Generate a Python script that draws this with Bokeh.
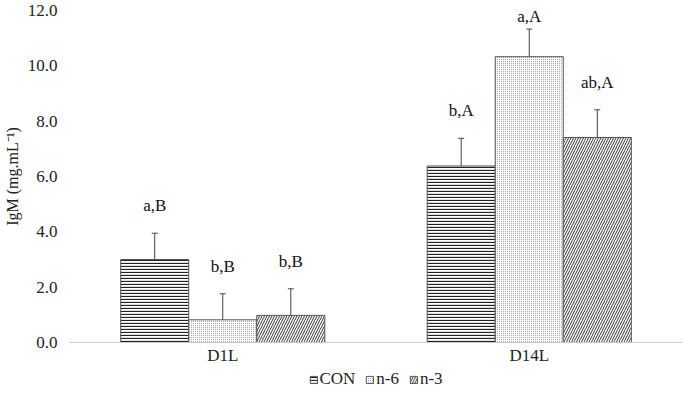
from bokeh.plotting import figure
from bokeh.layouts import column
from bokeh.models import (FactorRange, Range1d, ColumnDataSource, Whisker, TeeHead,
                          Legend, LegendItem, NumeralTickFormatter)
from bokeh.transform import dodge
from bokeh.core.properties import value
from bokeh.embed import file_html
from bokeh.resources import INLINE

categories = ["D1L", "D14L"]
series = ["CON", "n-6", "n-3"]
con_vals = [3.0, 6.38]
n6_vals = [0.82, 10.33]
n3_vals = [0.98, 7.41]
con_sd = [0.95, 1.0]
n6_sd = [0.94, 1.0]
n3_sd = [0.96, 1.0]
con_lab = ["a,B", "b,A"]
n6_lab = ["b,B", "a,A"]
n3_lab = ["b,B", "ab,A"]
y_ticks = [0, 2, 4, 6, 8, 10, 12]

FONT = "Liberation Serif"
YMAX = 12.0

p = figure(width=684, height=370, x_range=FactorRange(*categories, range_padding=0),
           y_range=Range1d(0, YMAX), output_backend="svg", toolbar_location=None,
           min_border_left=60, min_border_right=2, min_border_top=10, min_border_bottom=28)
p.outline_line_color = None
p.xgrid.grid_line_color = None
p.ygrid.grid_line_color = None

bw = 0.222
offs = [-bw, 0.0, bw]
styles = [
    dict(fill_color="white", hatch_pattern="horizontal_line", hatch_color="#222222",
         hatch_scale=3, hatch_weight=1.3),
    dict(fill_color="white", hatch_pattern="dot", hatch_color="#888888",
         hatch_scale=2, hatch_weight=1),
    dict(fill_color="white", hatch_pattern="right_diagonal_line", hatch_color="#333333",
         hatch_scale=5, hatch_weight=1),
]
vals = [con_vals, n6_vals, n3_vals]
sds = [con_sd, n6_sd, n3_sd]
labs = [con_lab, n6_lab, n3_lab]

# legend strip below the chart
lf = figure(width=684, height=18, output_backend="svg", toolbar_location=None,
            x_axis_type=None, y_axis_type=None, min_border=0,
            x_range=Range1d(0, 1), y_range=Range1d(0, 1))
lf.outline_line_color = None
lf.xgrid.grid_line_color = None
lf.ygrid.grid_line_color = None

items = []
for name, off, st, v, sd, lb in zip(series, offs, styles, vals, sds, labs):
    hi = [a + b for a, b in zip(v, sd)]
    src = ColumnDataSource(dict(cat=categories, v=v,
                                lo=[a - b for a, b in zip(v, sd)],
                                hi=hi,
                                ly=[min(h + 1.0, YMAX - 0.2) for h in hi],
                                lab=lb))
    p.vbar(x=dodge("cat", off, range=p.x_range), top="v", width=bw, source=src,
           line_color="#555555", line_width=1, **st)
    w = Whisker(base=dodge("cat", off, range=p.x_range), lower="lo", upper="hi", source=src,
                line_color="#444444", line_width=1,
                upper_head=TeeHead(size=6, line_color="#444444", line_width=1),
                lower_head=TeeHead(size=6, line_color="#444444", line_width=1))
    p.add_layout(w)
    p.text(x=dodge("cat", off, range=p.x_range), y="ly", text="lab", source=src,
           text_font=value(FONT), text_font_size="17px", text_color="#111111",
           text_align="center", text_baseline="middle")
    # zero-size proxy bar outside the view so the legend can draw its swatch
    lr = lf.vbar(x=[-5], top=[-5], bottom=[-5], width=0, line_color="#555555", line_width=1, **st)
    items.append(LegendItem(label=name, renderers=[lr]))

p.yaxis.ticker = y_ticks
p.yaxis.formatter = NumeralTickFormatter(format="0.0")
p.yaxis.axis_label = "IgM (mg.mL⁻¹)"
p.yaxis.axis_label_text_font = FONT
p.yaxis.axis_label_text_font_style = "normal"
p.yaxis.axis_label_text_font_size = "16px"
p.yaxis.axis_label_text_color = "#222222"
p.yaxis.axis_label_standoff = 4
p.yaxis.axis_line_color = None
p.yaxis.major_tick_line_color = None
p.yaxis.minor_tick_line_color = None
p.yaxis.major_tick_out = 0
p.yaxis.major_tick_in = 0
p.yaxis.minor_tick_out = 0
p.yaxis.major_label_standoff = 12
p.yaxis.major_label_text_font = FONT
p.yaxis.major_label_text_font_size = "17px"
p.yaxis.major_label_text_color = "#222222"

p.xaxis.axis_line_color = "#cccccc"
p.xaxis.major_tick_line_color = None
p.xaxis.minor_tick_line_color = None
p.xaxis.major_tick_out = 0
p.xaxis.major_tick_in = 0
p.xaxis.major_label_standoff = 3
p.xaxis.major_label_text_font = FONT
p.xaxis.major_label_text_font_size = "17px"
p.xaxis.major_label_text_color = "#222222"

leg = Legend(items=items, orientation="horizontal", location="center",
             label_text_font=FONT, label_text_font_size="17px", label_text_color="#222222",
             glyph_width=9, glyph_height=9, spacing=10, label_standoff=2,
             padding=0, margin=0, border_line_color=None, background_fill_alpha=0)
lf.add_layout(leg, "center")

layout = column(p, lf, spacing=0)
open("out.html", "w").write(file_html(layout, INLINE))
